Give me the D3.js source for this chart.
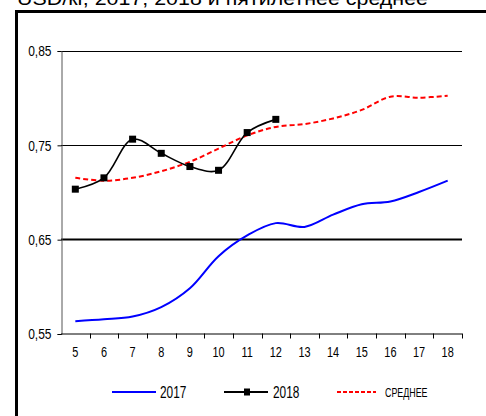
<!DOCTYPE html>
<html>
<head>
<meta charset="utf-8">
<script src="https://cdn.jsdelivr.net/npm/d3@7"></script>
<style>
  body { margin: 0; background: #fff; overflow: hidden; }
  svg { display: block; }
  .narrow { font-family: "Liberation Sans", Arial, sans-serif; }
</style>
</head>
<body>
<svg id="chart" width="486" height="416"></svg>
<script>
const months = [5, 6, 7, 8, 9, 10, 11, 12, 13, 14, 15, 16, 17, 18];
const yTicks = [0.55, 0.65, 0.75, 0.85];
const v2017 = [0.563, 0.565, 0.568, 0.578, 0.598, 0.632, 0.654, 0.667, 0.663, 0.676, 0.687, 0.690, 0.700, 0.712];
const v2018 = [0.703, 0.715, 0.756, 0.741, 0.727, 0.723, 0.763, 0.777];
const vAvg = [0.715, 0.712, 0.715, 0.722, 0.732, 0.746, 0.760, 0.769, 0.772, 0.778, 0.787, 0.801, 0.800, 0.802];
const seriesNames = ["2017", "2018", "СРЕДНЕЕ"];
const title = "USD/кг, 2017, 2018 и пятилетнее среднее";

const svg = d3.select("#chart");

// squeeze text horizontally, the original uses a narrow face
function narrow(sel, k) {
  sel.each(function () {
    const len = this.getComputedTextLength();
    d3.select(this)
      .attr("textLength", len * k)
      .attr("lengthAdjust", "spacingAndGlyphs");
  });
}

// title, cut off at the top like in the original
svg.append("text")
  .attr("x", 17)
  .attr("y", 4.5)
  .attr("textLength", 411)
  .attr("lengthAdjust", "spacingAndGlyphs")
  .style("font-family", "Liberation Sans, Arial, sans-serif")
  .style("font-size", "19px")
  .text(title);

// outer frame
svg.append("rect")
  .attr("x", 16.5)
  .attr("y", 11.5)
  .attr("width", 520)
  .attr("height", 460)
  .attr("fill", "none")
  .attr("stroke", "#000")
  .attr("stroke-width", 3);

const plotLeft = 61, plotRight = 462, plotTop = 50.5, plotBottom = 333.5;

const x = d3.scaleBand().domain(months).range([plotLeft, plotRight]);
const y = d3.scaleLinear().domain([0.55, 0.85]).range([plotBottom, plotTop]);

// gridlines
svg.append("g")
  .selectAll("line")
  .data(yTicks.filter(d => d > 0.55))
  .join("line")
  .attr("x1", plotLeft)
  .attr("x2", plotRight)
  .attr("y1", d => Math.round(y(d)) + 0.5)
  .attr("y2", d => Math.round(y(d)) + 0.5)
  .attr("stroke", "#000")
  .attr("stroke-width", d => d === 0.65 ? 2 : 1);

// y axis
const yAxis = d3.axisLeft(y)
  .tickValues(yTicks)
  .tickSize(4)
  .tickPadding(6)
  .tickFormat(d => d3.format(".2f")(d).replace(".", ","));

const gy = svg.append("g")
  .attr("transform", `translate(${plotLeft + 0.5},0.5)`)
  .call(yAxis);
gy.select(".domain").attr("stroke", "#555");
gy.selectAll(".tick line").attr("stroke", "#000");
gy.selectAll(".tick text")
  .attr("class", "narrow")
  .style("font-size", "15px")
  .attr("fill", "#000")
  .call(narrow, 0.8);

// x axis
const xAxis = d3.axisBottom(x).tickSize(0).tickPadding(13);
const gx = svg.append("g")
  .attr("transform", `translate(0,${plotBottom + 0.5})`)
  .call(xAxis);
gx.select(".domain").attr("stroke", "#000").attr("d", `M${plotLeft},0H${plotRight}`);
gx.selectAll(".tick text")
  .attr("class", "narrow")
  .style("font-size", "14px")
  .attr("fill", "#000")
  .call(narrow, 0.78);

// tick marks at band boundaries
svg.append("g")
  .selectAll("line")
  .data(months.slice(1).concat(["end"]))
  .join("line")
  .attr("x1", d => Math.round(d === "end" ? plotRight : x(d)) + 0.5)
  .attr("x2", d => Math.round(d === "end" ? plotRight : x(d)) + 0.5)
  .attr("y1", plotBottom)
  .attr("y2", plotBottom + 5)
  .attr("stroke", "#000");

const cx = (d, i) => x(months[i]) + x.bandwidth() / 2;
const line = d3.line()
  .x(cx)
  .y(d => y(d))
  .curve(d3.curveCatmullRom.alpha(0.5));

svg.append("path")
  .datum(v2017)
  .attr("d", line)
  .attr("fill", "none")
  .attr("stroke", "#0000ff")
  .attr("stroke-width", 2);

svg.append("path")
  .datum(vAvg)
  .attr("d", line)
  .attr("fill", "none")
  .attr("stroke", "#ff0000")
  .attr("stroke-width", 2)
  .attr("stroke-dasharray", "5,3");

svg.append("path")
  .datum(v2018)
  .attr("d", line)
  .attr("fill", "none")
  .attr("stroke", "#000")
  .attr("stroke-width", 1.6);

svg.append("g")
  .selectAll("rect")
  .data(v2018)
  .join("rect")
  .attr("x", (d, i) => cx(d, i) - 3.5)
  .attr("y", d => y(d) - 3.5)
  .attr("width", 7)
  .attr("height", 7)
  .attr("fill", "#000");

// legend
const ly = 392;
const legend = svg.append("g");
legend.append("line")
  .attr("x1", 112).attr("x2", 156).attr("y1", ly).attr("y2", ly)
  .attr("stroke", "#0000ff").attr("stroke-width", 2);
legend.append("line")
  .attr("x1", 224).attr("x2", 268).attr("y1", ly).attr("y2", ly)
  .attr("stroke", "#000").attr("stroke-width", 2);
legend.append("rect")
  .attr("x", 244).attr("y", ly - 3.5).attr("width", 6).attr("height", 7)
  .attr("fill", "#000");
legend.append("line")
  .attr("x1", 337).attr("x2", 376).attr("y1", ly).attr("y2", ly)
  .attr("stroke", "#ff0000").attr("stroke-width", 2)
  .attr("stroke-dasharray", "4,2");

const labelX = [160, 273, 385];
legend.selectAll("text")
  .data(seriesNames)
  .join("text")
  .attr("class", "narrow")
  .attr("x", (d, i) => labelX[i])
  .attr("y", (d, i) => i === 2 ? ly + 4.5 : ly + 6)
  .style("font-size", (d, i) => i === 2 ? "12px" : "16px")
  .text(d => d)
  .call(narrow, 0.74);
</script>
</body>
</html>
